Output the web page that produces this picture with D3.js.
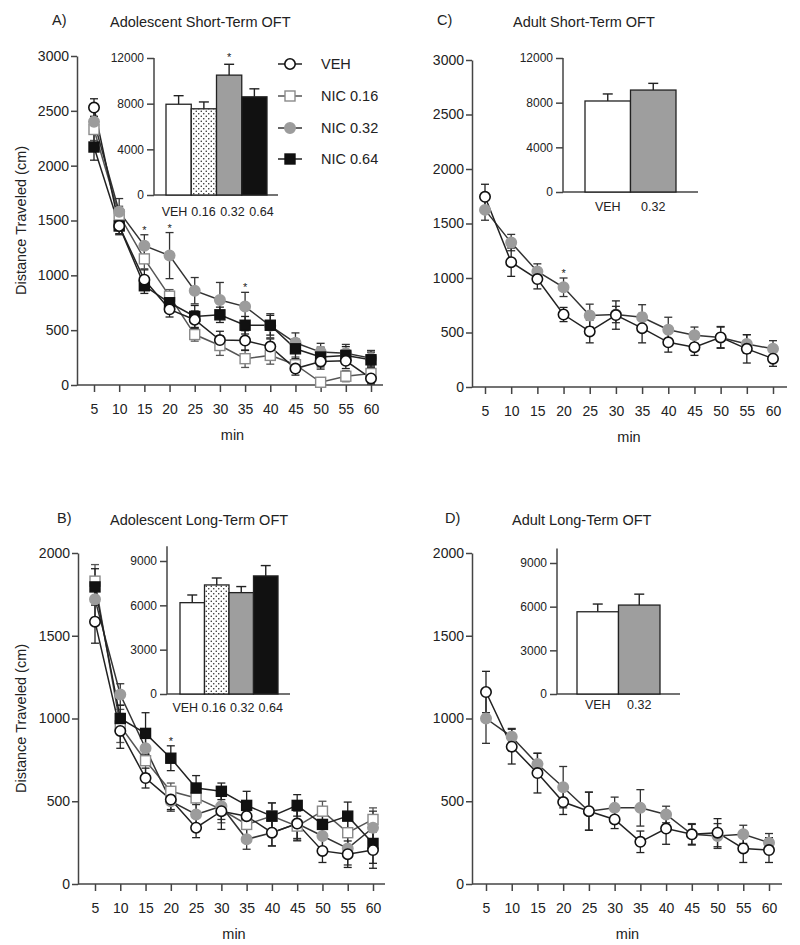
<!DOCTYPE html>
<html>
<head>
<meta charset="utf-8">
<script src="https://cdn.jsdelivr.net/npm/d3@7"></script>
<style>
  body { margin: 0; background: #fff; }
  svg text { font-family: "Liberation Sans", Arial, Helvetica, sans-serif; fill: #222; }
</style>
</head>
<body>
<div id="chart"></div>
<script>
// ---- data ----
const minutes = [5, 10, 15, 20, 25, 30, 35, 40, 45, 50, 55, 60];
const groups = ["VEH", "NIC 0.16", "NIC 0.32", "NIC 0.64"];
const barCats4 = ["VEH", "0.16", "0.32", "0.64"];
const barCats2 = ["VEH", "0.32"];

// A) adolescent short-term
const adolShortVeh = [2530, 1450, 960, 690, 595, 410, 405, 350, 150, 215, 220, 60];
const adolShortVehSem = [80, 70, 90, 70, 80, 80, 90, 70, 60, 70, 70, 50];
const adolShort016 = [2330, 1550, 1150, 810, 460, 360, 240, 270, 185, 25, 80, 105];
const adolShort016Sem = [100, 80, 90, 60, 60, 90, 80, 80, 70, 40, 50, 60];
const adolShort032 = [2400, 1580, 1270, 1180, 860, 775, 715, 540, 385, 300, 290, 245];
const adolShort032Sem = [110, 120, 100, 210, 120, 160, 130, 110, 90, 80, 80, 70];
const adolShort064 = [2170, 1450, 905, 750, 625, 640, 545, 545, 330, 255, 270, 230];
const adolShort064Sem = [120, 80, 70, 80, 100, 70, 80, 90, 90, 90, 80, 70];
const adolShortTotal = [7950, 7550, 10500, 8600];
const adolShortTotalSem = [750, 600, 950, 700];

// B) adolescent long-term
const adolLongVeh = [1585, 925, 640, 510, 340, 440, 410, 310, 365, 200, 180, 205];
const adolLongVehSem = [130, 105, 60, 60, 60, 110, 70, 80, 100, 70, 80, 110];
const adolLong016 = [1830, 955, 745, 560, 520, 450, 360, 410, 350, 440, 310, 390];
const adolLong016Sem = [100, 100, 80, 50, 80, 80, 80, 80, 90, 60, 80, 70];
const adolLong032 = [1720, 1145, 820, 500, 420, 470, 270, 310, 365, 290, 215, 340];
const adolLong032Sem = [110, 65, 90, 60, 60, 80, 60, 80, 90, 80, 100, 100];
const adolLong064 = [1795, 1000, 910, 760, 580, 560, 475, 410, 475, 360, 410, 245];
const adolLong064Sem = [110, 80, 125, 75, 75, 50, 85, 80, 65, 80, 85, 120];
const adolLongTotal = [6180, 7380, 6860, 7990];
const adolLongTotalSem = [520, 470, 410, 700];

// C) adult short-term
const adultShortVeh = [1745, 1145, 990, 665, 510, 660, 540, 410, 365, 455, 350, 260];
const adultShortVehSem = [115, 130, 90, 65, 105, 130, 135, 90, 75, 95, 130, 70];
const adultShort032 = [1625, 1325, 1060, 915, 655, 665, 640, 525, 475, 455, 395, 350];
const adultShort032Sem = [95, 75, 70, 85, 105, 75, 115, 115, 75, 100, 85, 75];
const adultShortTotal = [8150, 9130];
const adultShortTotalSem = [630, 600];

// D) adult long-term
const adultLongVeh = [1160, 830, 670, 495, 440, 390, 255, 335, 300, 310, 215, 205];
const adultLongVehSem = [125, 105, 120, 75, 115, 55, 65, 95, 60, 85, 85, 75];
const adultLong032 = [1000, 890, 725, 585, 440, 460, 460, 420, 300, 290, 300, 250];
const adultLong032Sem = [150, 50, 65, 125, 115, 65, 110, 50, 65, 75, 55, 55];
const adultLongTotal = [5650, 6110];
const adultLongTotalSem = [530, 750];

// ---- styles per group ----
const styles = {
  "VEH":      { shape: "circle", fill: "#fff",    stroke: "#111",    line: "#222", bar: "#fff" },
  "NIC 0.16": { shape: "square", fill: "#fff",    stroke: "#8a8a8a", line: "#555", bar: "url(#dots)" },
  "NIC 0.32": { shape: "circle", fill: "#9c9c9c", stroke: "#9c9c9c", line: "#333", bar: "#9e9e9e" },
  "NIC 0.64": { shape: "square", fill: "#111",    stroke: "#111",    line: "#222", bar: "#111" }
};

const svg = d3.select("#chart").append("svg")
    .attr("width", 800)
    .attr("height", 945);

// dotted fill for the 0.16 bar
const pat = svg.append("defs").append("pattern")
    .attr("id", "dots")
    .attr("width", 5).attr("height", 5)
    .attr("patternUnits", "userSpaceOnUse");
pat.append("rect").attr("width", 5).attr("height", 5).attr("fill", "#fff");
pat.append("circle").attr("cx", 1.25).attr("cy", 1.25).attr("r", 0.75).attr("fill", "#222");
pat.append("circle").attr("cx", 3.75).attr("cy", 3.75).attr("r", 0.75).attr("fill", "#222");

function marker(g, st, cx, cy) {
    if (st.shape == "circle") {
        g.append("circle").attr("cx", cx).attr("cy", cy).attr("r", 5.2)
            .attr("fill", st.fill).attr("stroke", st.stroke).attr("stroke-width", 1.6);
    } else {
        g.append("rect").attr("x", cx - 5).attr("y", cy - 5).attr("width", 10).attr("height", 10)
            .attr("fill", st.fill).attr("stroke", st.stroke).attr("stroke-width", 1.4);
    }
}

function styleAxis(a, size) {
    a.selectAll("path, line").attr("stroke", "#444").attr("stroke-width", 1.5);
    a.selectAll("text").attr("font-size", size).attr("fill", "#222");
    a.attr("font-family", null);
}

// line panel with inset bar chart
function drawPanel(p) {
    let g = svg.append("g");

    let x = d3.scaleLinear().domain([5, 60]).range([p.x5, p.x60]);
    let y = d3.scaleLinear().domain([0, p.yMax]).range([p.y0, p.yTop]);

    // titles
    g.append("text").attr("x", p.labelX).attr("y", p.titleY - 2)
        .attr("font-size", 14.5).text(p.label);
    g.append("text").attr("x", p.titleX).attr("y", p.titleY)
        .attr("font-size", 14.5).text(p.title);

    // y axis
    let ya = g.append("g")
        .attr("transform", `translate(${p.axisX},0)`)
        .call(d3.axisLeft(y).tickValues(d3.range(0, p.yMax + 1, 500))
            .tickFormat(d3.format("d"))
            .tickSize(6).tickSizeOuter(0).tickPadding(2));
    styleAxis(ya, 14);

    // x axis
    let xa = g.append("g")
        .attr("transform", `translate(0,${p.y0})`)
        .call(d3.axisBottom(x).tickValues(minutes).tickSize(7).tickSizeOuter(0).tickPadding(12));
    xa.select(".domain").remove();
    styleAxis(xa, 14);
    g.append("line")
        .attr("x1", p.axisX).attr("x2", p.xEnd)
        .attr("y1", p.y0).attr("y2", p.y0)
        .attr("stroke", "#444").attr("stroke-width", 1.5);

    g.append("text")
        .attr("x", (p.x5 + p.x60) / 2).attr("y", p.y0 + 55)
        .attr("text-anchor", "middle").attr("font-size", 14.5).text("min");

    if (p.yTitle) {
        g.append("text")
            .attr("transform", `translate(21, ${(p.y0 + p.yTop) / 2}) rotate(-90)`)
            .attr("text-anchor", "middle").attr("dy", "0.35em")
            .attr("font-size", 14.5).text("Distance Traveled (cm)");
    }

    // lines and error bars
    p.series.forEach(s => {
        let st = styles[s.name];
        let line = d3.line().x((d, i) => x(minutes[i])).y(d => y(d));
        g.append("path").datum(s.values)
            .attr("d", line).attr("fill", "none")
            .attr("stroke", st.line).attr("stroke-width", 1.5);
        s.values.forEach((v, i) => {
            let cx = x(minutes[i]);
            let lo = y(v - s.sem[i]), hi = y(v + s.sem[i]);
            g.append("line").attr("x1", cx).attr("x2", cx).attr("y1", lo).attr("y2", hi)
                .attr("stroke", st.line).attr("stroke-width", 1.3);
            [lo, hi].forEach(yy => {
                g.append("line").attr("x1", cx - 4).attr("x2", cx + 4).attr("y1", yy).attr("y2", yy)
                    .attr("stroke", st.line).attr("stroke-width", 1.3);
            });
        });
    });

    // markers
    p.series.forEach(s => {
        let st = styles[s.name];
        s.values.forEach((v, i) => marker(g, st, x(minutes[i]), y(v)));
    });

    // significance stars
    p.stars.forEach(m => {
        let s = p.series.find(d => d.name == p.starSeries);
        let i = minutes.indexOf(m);
        g.append("text")
            .attr("x", x(m)).attr("y", y(s.values[i] + s.sem[i]) - 1)
            .attr("text-anchor", "middle").attr("font-size", 11).text("*");
    });

    drawInset(g, p.inset);
}

function drawInset(g, ins) {
    let y = d3.scaleLinear().domain([0, ins.tickMax]).range([ins.y0, ins.yTick]);
    let xb = d3.scaleBand().domain(ins.cats).range([ins.barL, ins.barR]);
    // category labels sit a little wider apart than the bars
    let xl = d3.scaleBand().domain(ins.cats).range(ins.labRange || [ins.barL, ins.barR]);

    let ya = g.append("g")
        .attr("transform", `translate(${ins.axisX},0)`)
        .call(d3.axisLeft(y).tickValues(ins.ticks).tickFormat(d3.format("d"))
            .tickSize(7).tickSizeOuter(0).tickPadding(3));
    ya.select(".domain").remove();
    styleAxis(ya, 12);
    g.append("line")
        .attr("x1", ins.axisX).attr("x2", ins.axisX)
        .attr("y1", y(0)).attr("y2", y(ins.axisTop))
        .attr("stroke", "#444").attr("stroke-width", 1.5);
    g.append("line")
        .attr("x1", ins.axisX).attr("x2", ins.end)
        .attr("y1", y(0)).attr("y2", y(0))
        .attr("stroke", "#444").attr("stroke-width", 1.5);

    ins.cats.forEach((c, i) => {
        let st = styles[ins.groups[i]];
        let m = ins.means[i], s = ins.sems[i];
        let cx = xb(c) + xb.bandwidth() / 2;
        g.append("line").attr("x1", cx).attr("x2", cx).attr("y1", y(m)).attr("y2", y(m + s))
            .attr("stroke", "#222").attr("stroke-width", 1.4);
        g.append("line").attr("x1", cx - 5).attr("x2", cx + 5).attr("y1", y(m + s)).attr("y2", y(m + s))
            .attr("stroke", "#222").attr("stroke-width", 1.4);
        g.append("rect")
            .attr("x", xb(c)).attr("width", xb.bandwidth())
            .attr("y", y(m)).attr("height", y(0) - y(m))
            .attr("fill", st.bar).attr("stroke", "#222").attr("stroke-width", 1.3);
        g.append("text")
            .attr("x", xl(c) + xl.bandwidth() / 2).attr("y", ins.labelY)
            .attr("text-anchor", "middle").attr("font-size", 12.5).text(c);
        if (ins.star == c) {
            g.append("text")
                .attr("x", cx).attr("y", y(m + s) - 3)
                .attr("text-anchor", "middle").attr("font-size", 11).text("*");
        }
    });
}

// A)
drawPanel({
    label: "A)", labelX: 52, title: "Adolescent Short-Term OFT", titleX: 110, titleY: 27,
    axisX: 77, x5: 94, x60: 371, xEnd: 383, y0: 385, yTop: 56, yMax: 3000, yTitle: true,
    series: [
        { name: "NIC 0.16", values: adolShort016, sem: adolShort016Sem },
        { name: "NIC 0.32", values: adolShort032, sem: adolShort032Sem },
        { name: "NIC 0.64", values: adolShort064, sem: adolShort064Sem },
        { name: "VEH", values: adolShortVeh, sem: adolShortVehSem }
    ],
    stars: [15, 20, 35], starSeries: "NIC 0.32",
    inset: {
        axisX: 154, y0: 195, yTick: 58, tickMax: 12000, axisTop: 12000,
        ticks: [0, 4000, 8000, 12000], end: 278, barL: 166, barR: 267, labRange: [160, 276],
        cats: barCats4, groups: groups, means: adolShortTotal, sems: adolShortTotalSem,
        labelY: 216, star: "0.32"
    }
});

// legend (panel A)
let legend = svg.append("g");
groups.forEach((name, i) => {
    let ly = [64, 96, 128, 159][i];
    let st = styles[name];
    legend.append("line").attr("x1", 278).attr("x2", 302).attr("y1", ly).attr("y2", ly)
        .attr("stroke", st.line).attr("stroke-width", 1.5);
    marker(legend, st, 290, ly);
    legend.append("text").attr("x", 321).attr("y", ly).attr("dy", "0.35em")
        .attr("font-size", 14.5).text(name);
});

// C)
drawPanel({
    label: "C)", labelX: 437, title: "Adult Short-Term OFT", titleX: 513, titleY: 27,
    axisX: 472, x5: 485, x60: 773, xEnd: 787, y0: 387, yTop: 60, yMax: 3000, yTitle: false,
    series: [
        { name: "NIC 0.32", values: adultShort032, sem: adultShort032Sem },
        { name: "VEH", values: adultShortVeh, sem: adultShortVehSem }
    ],
    stars: [20], starSeries: "NIC 0.32",
    inset: {
        axisX: 563, y0: 192, yTick: 58, tickMax: 12000, axisTop: 12000,
        ticks: [0, 4000, 8000, 12000], end: 698, barL: 585, barR: 676,
        cats: barCats2, groups: ["VEH", "NIC 0.32"], means: adultShortTotal, sems: adultShortTotalSem,
        labelY: 211, star: null
    }
});

// B)
drawPanel({
    label: "B)", labelX: 57, title: "Adolescent Long-Term OFT", titleX: 110, titleY: 525,
    axisX: 78, x5: 95, x60: 373, xEnd: 385, y0: 884, yTop: 553, yMax: 2000, yTitle: true,
    series: [
        { name: "NIC 0.16", values: adolLong016, sem: adolLong016Sem },
        { name: "NIC 0.32", values: adolLong032, sem: adolLong032Sem },
        { name: "NIC 0.64", values: adolLong064, sem: adolLong064Sem },
        { name: "VEH", values: adolLongVeh, sem: adolLongVehSem }
    ],
    stars: [20], starSeries: "NIC 0.64",
    inset: {
        axisX: 167, y0: 694, yTick: 561, tickMax: 9000, axisTop: 10000,
        ticks: [0, 3000, 6000, 9000], end: 290, barL: 180, barR: 278, labRange: [171, 285],
        cats: barCats4, groups: groups, means: adolLongTotal, sems: adolLongTotalSem,
        labelY: 712, star: null
    }
});

// D)
drawPanel({
    label: "D)", labelX: 445, title: "Adult Long-Term OFT", titleX: 512, titleY: 525,
    axisX: 472, x5: 486, x60: 769, xEnd: 782, y0: 884, yTop: 553, yMax: 2000, yTitle: false,
    series: [
        { name: "NIC 0.32", values: adultLong032, sem: adultLong032Sem },
        { name: "VEH", values: adultLongVeh, sem: adultLongVehSem }
    ],
    stars: [], starSeries: "NIC 0.32",
    inset: {
        axisX: 557, y0: 694, yTick: 563, tickMax: 9000, axisTop: 10000,
        ticks: [0, 3000, 6000, 9000], end: 680, barL: 577, barR: 660,
        cats: barCats2, groups: ["VEH", "NIC 0.32"], means: adultLongTotal, sems: adultLongTotalSem,
        labelY: 709, star: null
    }
});
</script>
</body>
</html>
